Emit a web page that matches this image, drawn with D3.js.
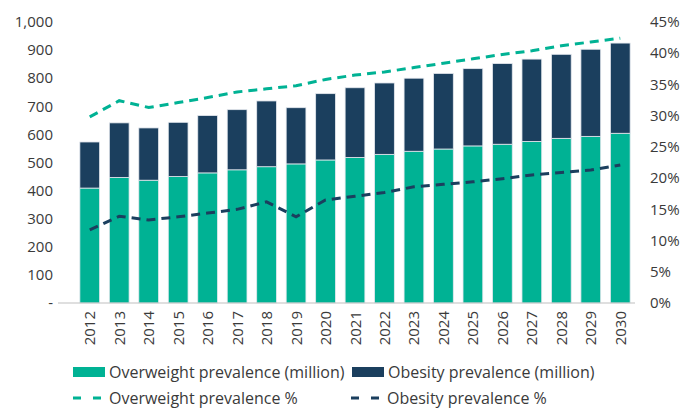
<!DOCTYPE html>
<html>
<head>
<meta charset="utf-8">
<script src="https://cdn.jsdelivr.net/npm/d3@7"></script>
<style>
  html, body { margin: 0; padding: 0; background: #fff; }
  svg { display: block; font-family: "Open Sans", sans-serif; }
</style>
</head>
<body>
<svg id="chart" width="684" height="410"></svg>
<script>
// Years on the category axis
const years = ["2012","2013","2014","2015","2016","2017","2018","2019","2020","2021",
               "2022","2023","2024","2025","2026","2027","2028","2029","2030"];
// Prevalence in millions (stacked bars)
const overweightMillion = [409,447,437,450,463,474,485,495,509,518,529,540,548,559,565,575,586,593,604];
const obesityMillion    = [164,194,186,193,204,214,234,200,236,248,254,260,269,275,287,293,299,310,321];
// Prevalence in percent (dashed lines, right axis)
const overweightPct = [29.8,32.4,31.3,32.1,32.9,33.8,34.3,34.8,35.8,36.5,37.0,37.7,38.4,39.1,39.8,40.4,41.2,41.8,42.4];
const obesityPct    = [11.7,13.9,13.3,13.8,14.4,15.0,16.2,13.8,16.5,17.1,17.7,18.6,19.0,19.4,19.9,20.5,20.9,21.3,22.1];
// Axis ticks
const leftTicks  = [0,100,200,300,400,500,600,700,800,900,1000];
const rightTicks = [0,5,10,15,20,25,30,35,40,45];

const GREEN = "#00B294";
const NAVY  = "#1B3F5E";
const TEXT  = "#3a3a3a";

const svg = d3.select("#chart");

const x = d3.scaleBand().domain(years).range([75, 635]).paddingInner(0.33).paddingOuter(0.165);
const yL = d3.scaleLinear().domain([0, 1000]).range([303, 22]);
const yR = d3.scaleLinear().domain([0, 45]).range([303, 22]);

// Stacked bars
const rows = years.map((yr, i) => ({ year: yr, overweight: overweightMillion[i], obesity: obesityMillion[i] }));
const stack = d3.stack().keys(["overweight", "obesity"])(rows);
const colors = { overweight: GREEN, obesity: NAVY };

svg.append("g").selectAll("g").data(stack).join("g")
  .attr("fill", d => colors[d.key])
  .selectAll("rect").data(d => d).join("rect")
    .attr("x", d => x(d.data.year))
    .attr("width", x.bandwidth())
    .attr("y", d => yL(d[1]))
    .attr("height", d => yL(d[0]) - yL(d[1]))
    .attr("stroke", "#e4e8ee")
    .attr("stroke-width", 0.8);

// Category axis line
svg.append("line")
  .attr("x1", 58).attr("x2", 635)
  .attr("y1", yL(0)).attr("y2", yL(0))
  .attr("stroke", "#bfbfbf").attr("stroke-width", 1.2);

// Year labels (rotated)
svg.append("g").selectAll("text").data(years).join("text")
  .attr("transform", d => `translate(${x(d) + x.bandwidth() / 2 + 5.5},311) rotate(-90)`)
  .attr("text-anchor", "end")
  .attr("fill", TEXT)
  .attr("font-size", 15)
  .text(d => d);

// Left axis labels
const fmt = d3.format(",");
svg.append("g").selectAll("text").data(leftTicks).join("text")
  .attr("x", 53).attr("y", d => yL(d)).attr("dy", "0.35em")
  .attr("text-anchor", "end")
  .attr("fill", TEXT).attr("font-size", 15)
  .text(d => d === 0 ? "-" : fmt(d));

// Right axis labels
svg.append("g").selectAll("text").data(rightTicks).join("text")
  .attr("x", 650).attr("y", d => yR(d)).attr("dy", "0.35em")
  .attr("text-anchor", "start")
  .attr("fill", TEXT).attr("font-size", 15)
  .text(d => d + "%");

// Dashed percentage lines
const cx = i => x(years[i]) + x.bandwidth() / 2;
const line = d3.line().x((d, i) => cx(i)).y(d => yR(d));
svg.append("path").datum(overweightPct)
  .attr("d", line).attr("fill", "none")
  .attr("stroke", GREEN).attr("stroke-width", 3)
  .attr("stroke-dasharray", "9,6");
svg.append("path").datum(obesityPct)
  .attr("d", line).attr("fill", "none")
  .attr("stroke", NAVY).attr("stroke-width", 3)
  .attr("stroke-dasharray", "9,6");

// Legend
const legend = svg.append("g").attr("fill", TEXT).attr("font-size", 16);
const barItems = [
  { label: "Overweight prevalence (million)", color: GREEN, x: 73 },
  { label: "Obesity prevalence (million)", color: NAVY, x: 352 }
];
barItems.forEach(it => {
  legend.append("rect").attr("x", it.x).attr("y", 367).attr("width", 32).attr("height", 10).attr("fill", it.color);
  legend.append("text").attr("x", it.x + 36).attr("y", 372).attr("dy", "0.35em").text(it.label);
});
const lineItems = [
  { label: "Overweight prevalence %", color: GREEN, x: 73 },
  { label: "Obesity prevalence %", color: NAVY, x: 351 }
];
lineItems.forEach(it => {
  legend.append("line").attr("x1", it.x).attr("x2", it.x + 32).attr("y1", 398).attr("y2", 398)
    .attr("stroke", it.color).attr("stroke-width", 3).attr("stroke-dasharray", "8,12");
  legend.append("text").attr("x", it.x + 36).attr("y", 398).attr("dy", "0.35em").text(it.label);
});
</script>
</body>
</html>
